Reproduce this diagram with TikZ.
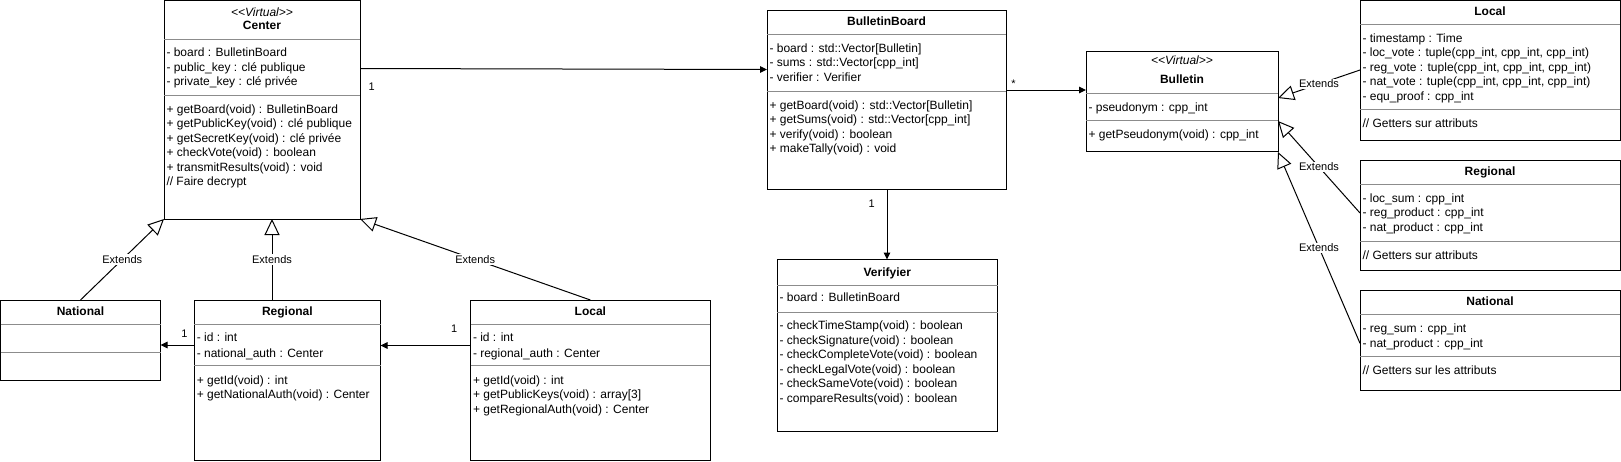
\documentclass[tikz,border=0pt]{standalone}
\usepackage{fontspec}
\setmainfont{Liberation Sans}
\usetikzlibrary{arrows.meta}
\newcommand\attrfont{\fontsize{12}{14}\selectfont}
\newcommand\lblfont{\fontsize{11}{13}\selectfont}
\newcommand\classrows[5]{%
  \foreach \rowtext [count=\rowi from 1] in {#5} {%
    \node[txt] (#1\rowi) at (#2, {#3+(\rowi-1)*#4}) {\rowtext};
  }}
\newcommand\classbox[5]{%
  \node[cbox, minimum width={(#4-#2)*1pt}, minimum height={(#5-#3)*1pt}, anchor=north west] (#1) at (#2,#3) {};}
\newcommand\sepline[3]{\draw[sepl] (#1,#3) -- (#2,#3);}
\begin{document}
\begin{tikzpicture}[x=1pt,y=-1pt,
  cbox/.style={draw=black, line width=1pt, inner sep=0pt, outer sep=0pt, rectangle},
  sepl/.style={draw=black!45, line width=1pt},
  txt/.style={anchor=base west, inner sep=0pt, outer sep=0pt, font=\attrfont},
  clsname/.style={anchor=base, inner sep=0pt, outer sep=0pt, font=\attrfont\bfseries},
  stereo/.style={anchor=base, inner sep=0pt, outer sep=0pt, font=\attrfont\itshape},
  lbl/.style={font=\lblfont, inner sep=0pt, anchor=base},
  extlbl/.style={font=\lblfont, fill=white, inner sep=1pt},
  assoc/.style={draw=black, line width=1pt, -{Triangle[length=7pt,width=6.5pt]}},
  extarrow/.style={draw=black, line width=1pt, -{Triangle[open,length=16pt,width=15pt]}},
]
\useasboundingbox (0,0) rectangle (1621,461);
\fill[white] (0,0) rectangle (1621,461);

% ---------- Center ----------
\classbox{center}{164}{0.5}{360}{219}
\sepline{164}{360}{39}
\sepline{164}{360}{95.3}
\node[stereo] (centerSt) at (262,16) {<{}<Virtual>{}>};
\node[clsname] (centerT) at (262,29) {Center};
\classrows{centerA}{166.5}{56.6}{14.6}{- board : BulletinBoard, - public\_key : clé publique, - private\_key : clé privée}
\classrows{centerM}{166.5}{113}{14.55}{+ getBoard(void) : BulletinBoard, + getPublicKey(void) : clé publique, + getSecretKey(void) : clé privée, + checkVote(void) : boolean, + transmitResults(void) : void, // Faire decrypt}

% ---------- BulletinBoard ----------
\classbox{bb}{767}{10}{1006}{189.5}
\sepline{767}{1006}{34.3}
\sepline{767}{1006}{91}
\node[clsname] (bbT) at (886.5,25.5) {BulletinBoard};
\classrows{bbA}{769.5}{52.3}{14.6}{- board : std::Vector[Bulletin], - sums : std::Vector[cpp\_int], - verifier : Verifier}
\classrows{bbM}{769.5}{109.3}{14.4}{+ getBoard(void) : std::Vector[Bulletin], + getSums(void) : std::Vector[cpp\_int], + verify(void) : boolean, + makeTally(void) : void}

% ---------- Verifyier ----------
\classbox{verif}{777}{259.5}{997.5}{431}
\sepline{777}{997.5}{285}
\sepline{777}{997.5}{312.3}
\node[clsname] (verifT) at (887.3,276.3) {Verifyier};
\classrows{verifA}{779.5}{301.7}{14.5}{- board : BulletinBoard}
\classrows{verifM}{779.5}{329.7}{14.46}{- checkTimeStamp(void) : boolean, - checkSignature(void) : boolean, - checkCompleteVote(void) : boolean, - checkLegalVote(void) : boolean, - checkSameVote(void) : boolean, - compareResults(void) : boolean}

% ---------- Bulletin ----------
\classbox{bull}{1086}{51}{1278}{151}
\sepline{1086}{1278}{93.3}
\sepline{1086}{1278}{120}
\node[stereo] (bullSt) at (1182,64) {<{}<Virtual>{}>};
\node[clsname] (bullT) at (1182,83.5) {Bulletin};
\classrows{bullA}{1088.5}{111}{14.5}{- pseudonym : cpp\_int}
\classrows{bullM}{1088.5}{138}{14.5}{+ getPseudonym(void) : cpp\_int}

% ---------- Local (right) ----------
\classbox{lr}{1360}{0.5}{1620}{140}
\sepline{1360}{1620}{24.3}
\sepline{1360}{1620}{109}
\node[clsname] (lrT) at (1490,15.3) {Local};
\classrows{lrA}{1362.5}{42}{14.6}{- timestamp : Time, {- loc\_vote : tuple(cpp\_int, cpp\_int, cpp\_int)}, {- reg\_vote : tuple(cpp\_int, cpp\_int, cpp\_int)}, {- nat\_vote : tuple(cpp\_int, cpp\_int, cpp\_int)}, - equ\_proof : cpp\_int}
\classrows{lrM}{1362.5}{127}{14.5}{// Getters sur attributs}

% ---------- Regional (right) ----------
\classbox{rr}{1360}{160.3}{1620}{270}
\sepline{1360}{1620}{184.3}
\sepline{1360}{1620}{241.3}
\node[clsname] (rrT) at (1490,175.3) {Regional};
\classrows{rrA}{1362.5}{202.3}{14.5}{- loc\_sum : cpp\_int, - reg\_product : cpp\_int, - nat\_product : cpp\_int}
\classrows{rrM}{1362.5}{259}{14.5}{// Getters sur attributs}

% ---------- National (right) ----------
\classbox{nr}{1360}{290.3}{1620}{390}
\sepline{1360}{1620}{314.3}
\sepline{1360}{1620}{356.3}
\node[clsname] (nrT) at (1490,305.3) {National};
\classrows{nrA}{1362.5}{332.3}{14.8}{- reg\_sum : cpp\_int, - nat\_product : cpp\_int}
\classrows{nrM}{1362.5}{374}{14.5}{// Getters sur les attributs}

% ---------- National (left) ----------
\classbox{natl}{0.5}{300}{160.5}{380.3}
\sepline{0.5}{160.5}{324.3}
\sepline{0.5}{160.5}{352.3}
\node[clsname] (natlT) at (80.5,315) {National};

% ---------- Regional (left) ----------
\classbox{regl}{194.3}{300}{380.5}{460}
\sepline{194.3}{380.5}{324.3}
\sepline{194.3}{380.5}{365.7}
\node[clsname] (reglT) at (287.4,315) {Regional};
\classrows{reglA}{196.8}{341.7}{15.4}{- id : int, - national\_auth : Center}
\classrows{reglM}{196.8}{384}{14.7}{+ getId(void) : int, + getNationalAuth(void) : Center}

% ---------- Local (left) ----------
\classbox{locl}{470.5}{300}{710.3}{460}
\sepline{470.5}{710.3}{324.3}
\sepline{470.5}{710.3}{365.7}
\node[clsname] (loclT) at (590.4,315) {Local};
\classrows{loclA}{473}{341.7}{15.4}{- id : int, - regional\_auth : Center}
\classrows{loclM}{473}{384}{14.7}{+ getId(void) : int, + getPublicKeys(void) : array[3], + getRegionalAuth(void) : Center}

% ---------- connector end points ----------
\coordinate (cOut) at (360,68.5);
\coordinate (bbIn) at (767,69.5);
\coordinate (bbOut) at (1006,90);
\coordinate (bullIn) at (1086,90);
\coordinate (bbBot) at (887,189.5);
\coordinate (verifTop) at (887,259.5);
\coordinate (reglW) at (194.3,345);
\coordinate (natlE) at (160.5,345);
\coordinate (loclW) at (470.5,345.5);
\coordinate (reglE) at (380.5,345.5);
\coordinate (reglTop) at (272,300);
\coordinate (centerB2) at (272,219);
\coordinate (lrW) at (1360,70);
\coordinate (rrW) at (1360,213);
\coordinate (nrW) at (1360,343.3);
\coordinate (bullE1) at (1278,98);
\coordinate (bullE2) at (1278,121);
\coordinate (bullE3) at (1278,152);

% ---------- associations ----------
\draw[assoc] (cOut) -- (bbIn);
\node[lbl] (m1) at (371.7,90.7) {1};
\draw[assoc] (bbOut) -- (bullIn);
\node[lbl] (m2) at (1013.5,87) {*};
\draw[assoc] (bbBot) -- (verifTop);
\node[lbl] (m3) at (871.6,207) {1};
\draw[assoc] (reglW) -- (natlE);
\node[lbl] (m4) at (184.5,337.3) {1};
\draw[assoc] (loclW) -- (reglE);
\node[lbl] (m5) at (454.3,332.3) {1};

% ---------- generalisations ----------
\draw[extarrow] (natl.north) -- node[extlbl, pos=0.5] (e1) {Extends} (center.south west);
\draw[extarrow] (reglTop) -- node[extlbl, pos=0.5] (e2) {Extends} (centerB2);
\draw[extarrow] (locl.north) -- node[extlbl, pos=0.5] (e3) {Extends} (center.south east);
\draw[extarrow] (lrW) -- node[extlbl, pos=0.5] (e4) {Extends} (bullE1);
\draw[extarrow] (rrW) -- node[extlbl, pos=0.5] (e5) {Extends} (bullE2);
\draw[extarrow] (nrW) -- node[extlbl, pos=0.5] (e6) {Extends} (bullE3);
\end{tikzpicture}
\end{document}
